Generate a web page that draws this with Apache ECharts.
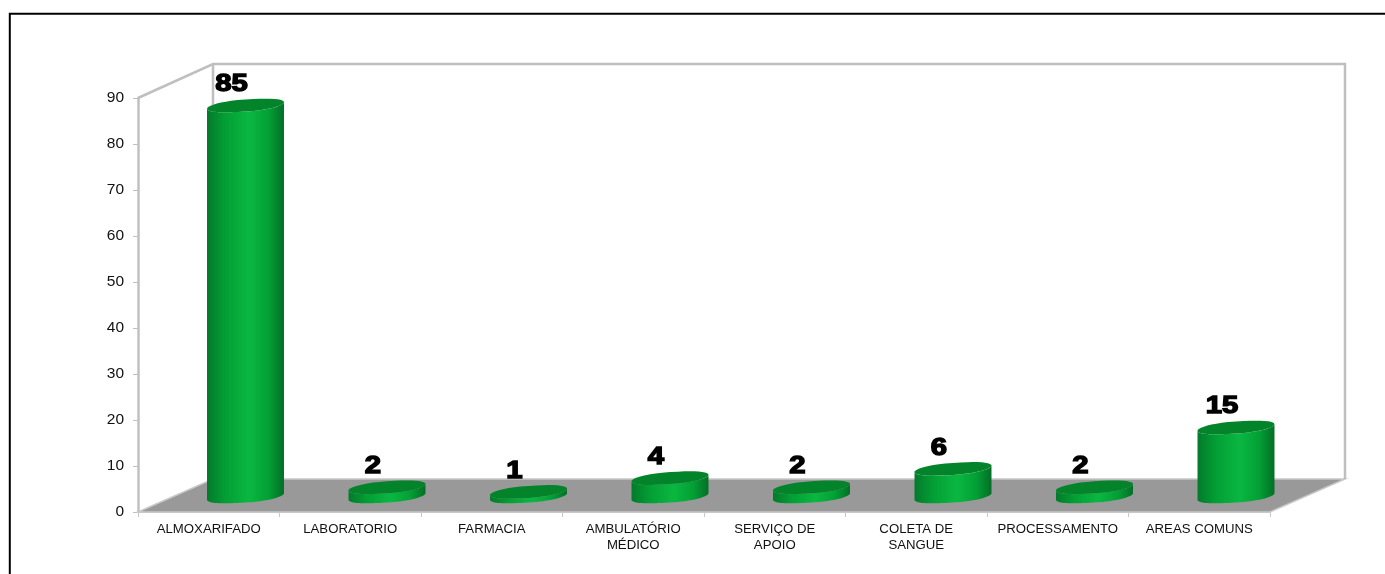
<!DOCTYPE html>
<html>
<head>
<meta charset="utf-8">
<style>
html, body { margin: 0; padding: 0; background: #fff; }
#chart { width: 1385px; height: 574px; }
</style>
<script src="https://cdn.jsdelivr.net/npm/echarts@6/dist/echarts.min.js"></script>
</head>
<body>
<div id="chart"></div>
<script>
var categories = ['ALMOXARIFADO', 'LABORATORIO', 'FARMACIA', 'AMBULATÓRIO\nMÉDICO', 'SERVIÇO DE\nAPOIO', 'COLETA DE\nSANGUE', 'PROCESSAMENTO', 'AREAS COMUNS'];
var values = [85, 2, 1, 4, 2, 6, 2, 15];
var yTicks = [0, 10, 20, 30, 40, 50, 60, 70, 80, 90];

// fake 3d depth of the chart box, in px
var depthX = 75;
var depthY = 33;
var font = '"Liberation Sans", Arial, sans-serif';

var chart = echarts.init(document.getElementById('chart'));

// part of a slanted ellipse, t from start to end
var arc = function(cx, cy, a, start, end) {
	var pts = [];
	for (var i = 0; i <= 40; i++) {
		var t = start + (end - start) * i / 40;
		var c = Math.cos(t);
		var k = (c < 0 ? -1 : 1) * Math.pow(Math.abs(c), 0.85);
		pts.push([ cx + a * k, cy - 3.3 * c + 6 * Math.sin(t) ]);
	}
	return pts;
};

var renderBox = function(params, api) {
	var c = params.coordSys;
	var x0 = c.x, x1 = c.x + c.width, y0 = c.y, y1 = c.y + c.height;
	var wall = { stroke : '#bfbfbf', lineWidth : 2.5, fill : 'none' };
	return {
		type : 'group',
		children : [ {
			type : 'polygon',
			shape : { points : [ [ x0, y1 ], [ x0 + depthX, y1 - depthY ], [ x1 + depthX, y1 - depthY ], [ x1, y1 ] ] },
			style : { fill : '#999999', stroke : '#c8c8c8', lineWidth : 1.5 }
		}, {
			type : 'polyline',
			shape : { points : [ [ x0, y0 ], [ x0 + depthX, y0 - depthY - 1 ], [ x1 + depthX, y0 - depthY - 1 ], [ x1 + depthX, y1 - depthY ] ] },
			style : wall
		}, {
			type : 'polyline',
			shape : { points : [ [ x0 + depthX, y0 - depthY - 1 ], [ x0 + depthX, y1 - depthY ] ] },
			style : wall
		} ]
	};
};

var renderBar = function(params, api) {
	var front = api.coord([ api.value(0), 0 ]);
	var top = api.coord([ api.value(0), api.value(1) ]);
	var a = api.size([ 1, 0 ])[0] * 0.272;
	var cx = front[0] + depthX * 0.49;
	var baseY = front[1] - depthY * 0.47;
	var topY = top[1] - depthY * 0.47;
	var body = arc(cx, baseY, a, Math.PI, 0).concat(arc(cx, topY, a, 0, Math.PI));
	var cap = arc(cx, topY, a, 0, 2 * Math.PI);
	return {
		type : 'group',
		children : [ {
			type : 'polygon',
			shape : { points : body },
			style : {
				fill : new echarts.graphic.LinearGradient(0, 0, 1, 0, [
					{ offset : 0, color : '#037a2b' },
					{ offset : 0.25, color : '#03a035' },
					{ offset : 0.55, color : '#0ab741' },
					{ offset : 0.8, color : '#03a035' },
					{ offset : 1, color : '#036f27' }
				])
			}
		}, {
			type : 'polygon',
			shape : { points : cap },
			style : { fill : '#04842a' }
		}, {
			type : 'text',
			x : cx - 14,
			y : topY - 9,
			scaleX : 1.22,
			style : {
				text : String(api.value(1)),
				font : 'bold 24px ' + font,
				fill : '#000',
				stroke : '#000',
				lineWidth : 1.4,
				align : 'center',
				verticalAlign : 'bottom'
			}
		} ]
	};
};

var barData = [];
for (var i = 0; i < values.length; i++) {
	barData.push([ i, values[i] ]);
}

var option = {
	animation : false,
	backgroundColor : '#fff',
	grid : {
		left : 138,
		right : 115,
		top : 98,
		bottom : 62
	},
	graphic : [ {
		type : 'polyline',
		shape : { points : [ [ 9.8, 574 ], [ 9.8, 13.7 ], [ 1385, 13.7 ] ] },
		style : { stroke : '#000', lineWidth : 2, fill : 'none' }
	} ],
	xAxis : {
		type : 'category',
		data : categories,
		axisLine : { lineStyle : { color : '#c8c8c8', width : 2 } },
		axisTick : { show : true, length : 5, lineStyle : { color : '#c8c8c8' } },
		axisLabel : {
			interval : 0,
			color : '#111',
			fontFamily : font,
			fontSize : 13.2,
			lineHeight : 16,
			margin : 9
		}
	},
	yAxis : {
		type : 'value',
		min : yTicks[0],
		max : yTicks[yTicks.length - 1],
		interval : 10,
		splitLine : { show : false },
		axisLine : { show : true, lineStyle : { color : '#c0c0c0', width : 2.5 } },
		axisTick : { show : true, length : 5, lineStyle : { color : '#c0c0c0' } },
		axisLabel : {
			color : '#111',
			fontFamily : font,
			fontSize : 15.5,
			margin : 14
		}
	},
	series : [ {
		type : 'custom',
		name : 'box',
		silent : true,
		z : 1,
		data : [ [ 0, 0 ] ],
		renderItem : renderBox
	}, {
		type : 'custom',
		name : 'bars',
		z : 3,
		encode : { x : 0, y : 1 },
		data : barData,
		renderItem : renderBar
	} ]
};
chart.setOption(option);
</script>
</body>
</html>
